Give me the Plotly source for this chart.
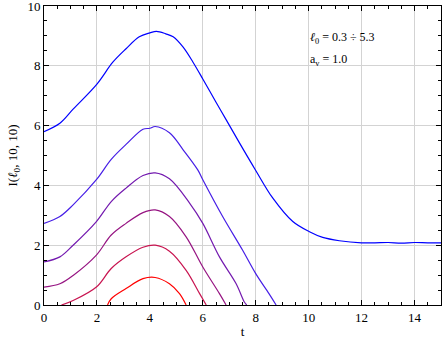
import plotly.graph_objects as go

# values
t1 = [0, 0.6, 1.1, 2.0, 2.6, 3.1, 3.6, 4.0, 4.25, 4.6, 4.88, 5.25, 5.63, 6.0, 6.5, 6.88,
      7.38, 8.0, 8.64, 9.4, 10.03, 10.53, 11.16, 12.0, 12.5, 13.0, 13.5, 14.0, 14.5, 15.0]
i1 = [5.8, 6.08, 6.55, 7.39, 8.12, 8.57, 8.97, 9.1, 9.15, 9.07, 8.97, 8.63, 8.12, 7.56, 6.78, 6.2,
      5.43, 4.5, 3.58, 2.79, 2.45, 2.26, 2.15, 2.08, 2.08, 2.09, 2.07, 2.09, 2.08, 2.08]

t2 = [0, 0.6, 1.1, 1.98, 2.54, 3.1, 3.74, 4.0, 4.2, 4.74, 5.25, 5.81, 6.0, 6.75, 7.5, 8.0, 8.5, 8.77]
i2 = [2.73, 2.96, 3.35, 4.19, 4.87, 5.37, 5.88, 5.91, 5.97, 5.76, 5.2, 4.52, 4.19, 2.96, 1.84, 1.05, 0.38, 0]

t3 = [0, 0.6, 1.1, 1.98, 2.54, 3.1, 3.74, 4.2, 4.74, 5.5, 6.0, 6.63, 7.26, 7.57, 7.66]
i3 = [1.44, 1.61, 2.0, 2.79, 3.46, 3.91, 4.33, 4.42, 4.22, 3.41, 2.73, 1.61, 0.71, 0.1, 0]

t4 = [0, 0.6, 1.1, 1.98, 2.54, 3.1, 3.74, 4.2, 4.74, 5.37, 6.0, 6.63, 6.88]
i4 = [0.6, 0.71, 0.99, 1.67, 2.34, 2.73, 3.09, 3.18, 2.96, 2.28, 1.27, 0.38, 0]

t5 = [0.66, 1.1, 1.98, 2.54, 3.1, 3.74, 4.2, 4.74, 5.37, 5.88, 6.13]
i5 = [0, 0.15, 0.6, 1.22, 1.61, 1.93, 2.0, 1.8, 1.16, 0.38, 0]

t6 = [2.4, 2.54, 3.1, 3.74, 4.2, 4.74, 5.12, 5.37]
i6 = [0, 0.21, 0.55, 0.88, 0.92, 0.71, 0.38, 0]

colors = ['rgb(0,0,255)', 'rgb(70,30,230)', 'rgb(115,25,175)',
          'rgb(150,20,130)', 'rgb(200,20,80)', 'rgb(255,0,0)']

serif = 'Liberation Serif'

fig = go.Figure()
for tt, ii, c in zip([t1, t2, t3, t4, t5, t6], [i1, i2, i3, i4, i5, i6], colors):
    fig.add_trace(go.Scatter(x=tt, y=ii, mode='lines',
                             line=dict(color=c, width=1.2, shape='spline', smoothing=1.0),
                             showlegend=False))

axis_style = dict(
    showline=True, mirror='allticks', linecolor='black', linewidth=1,
    ticks='inside', ticklen=5, tickcolor='black', automargin=False,
    ticklabeloverflow='allow',
    showgrid=True, gridcolor='#d3d3d3', gridwidth=1, zeroline=False,
    tickfont=dict(family=serif, size=13, color='black'),
    minor=dict(ticks='inside', ticklen=3, tickcolor='black', dtick=0.5, showgrid=False),
)

fig.update_xaxes(range=[0, 15], dtick=2, tick0=0,
                 title=dict(text='t', font=dict(family=serif, size=13, color='black'), standoff=4),
                 **axis_style)
fig.update_yaxes(range=[0, 10], dtick=2, tick0=0,
                 title=dict(text='I(<i>ℓ</i><sub>0</sub>, 10, 10)',
                            font=dict(family=serif, size=13, color='black'), standoff=6),
                 **axis_style)

fig.add_annotation(xref='paper', yref='paper', x=0.665, y=0.893, xanchor='left', yanchor='middle',
                   text='<i>ℓ</i><sub>0</sub> = 0.3 ÷ 5.3', showarrow=False,
                   font=dict(family=serif, size=12, color='black'))
fig.add_annotation(xref='paper', yref='paper', x=0.665, y=0.819, xanchor='left', yanchor='middle',
                   text='a<sub>v</sub> = 1.0', showarrow=False,
                   font=dict(family=serif, size=12, color='black'))

fig.update_layout(
    width=443, height=339,
    margin=dict(l=44, r=2, t=6, b=34),
    font=dict(family=serif),
    plot_bgcolor='white', paper_bgcolor='white',
)

# page has a default body margin; drop it so the figure sits at the window corner
fig.write_html("out.html", config={'displayModeBar': False},
               post_script="document.body.style.margin='0';")
